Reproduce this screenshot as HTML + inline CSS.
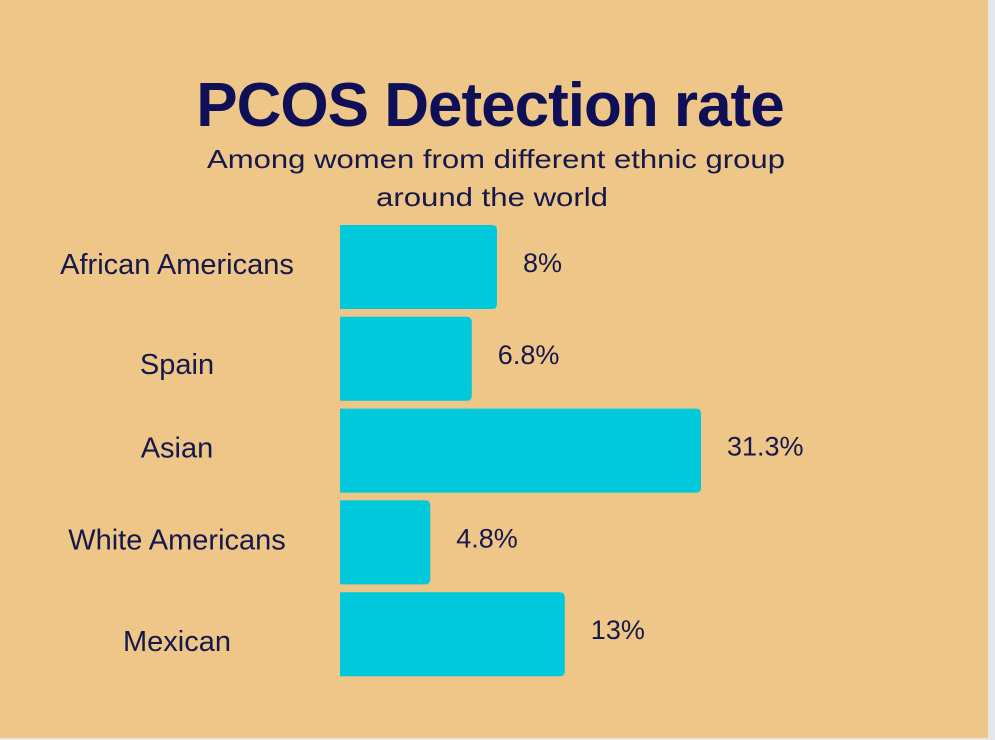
<!DOCTYPE html>
<html><head><meta charset="utf-8"><style>
body{margin:0;width:995px;height:740px;background:#e6e7ec;overflow:hidden;font-family:"Liberation Sans",sans-serif;}
#bg{position:absolute;left:0;top:0;width:988px;height:738px;background:#edc688;}
svg{position:absolute;left:0;top:0;}
</style></head><body>
<div id="bg"></div>
<svg id="chart" width="995" height="740">
<text x="490" y="126" text-anchor="middle" font-size="62" font-weight="bold" fill="#0e0f57" letter-spacing="-1">PCOS Detection rate</text>
<text x="496" y="168" text-anchor="middle" font-size="26" fill="#16174a" textLength="578" lengthAdjust="spacingAndGlyphs">Among women from different ethnic group</text>
<text x="492" y="206" text-anchor="middle" font-size="26" fill="#16174a" textLength="232" lengthAdjust="spacingAndGlyphs">around the world</text>
<g id="bars"></g>
</svg>
<script>
const categories=["African Americans","Spain","Asian","White Americans","Mexican"];
const values=[8,6.8,31.3,4.8,13];
const valueLabels=["8%","6.8%","31.3%","4.8%","13%"];
const axisDomain=[0,5,10,15,35];
const axisRange=[0,94,199,242,388];
const x0=340;
function xLen(v){
  for(let k=1;k<axisDomain.length;k++){
    if(v<=axisDomain[k]||k==axisDomain.length-1){
      const t=(v-axisDomain[k-1])/(axisDomain[k]-axisDomain[k-1]);
      return axisRange[k-1]+t*(axisRange[k]-axisRange[k-1]);
    }
  }
}
function yTop(i){return 225+i*91.8;}
const bh=84;
const g=document.getElementById('bars');
const ns="http://www.w3.org/2000/svg";
categories.forEach((c,i)=>{
  const w=xLen(values[i]),y=yTop(i),r=5;
  const p=document.createElementNS(ns,'path');
  p.setAttribute('d',`M${x0},${y}H${x0+w-r}Q${x0+w},${y} ${x0+w},${y+r}V${y+bh-r}Q${x0+w},${y+bh} ${x0+w-r},${y+bh}H${x0}Z`);
  p.setAttribute('fill','#00c9db');
  
  
  g.appendChild(p);
  const t=document.createElementNS(ns,'text');
  t.setAttribute('x',177);t.setAttribute('y',y+bh/2+7+(i==1?8:i==4?10:0));
  t.setAttribute('text-anchor','middle');t.setAttribute('font-size','29');t.setAttribute('fill','#16174a');
  t.textContent=c;
  
  
  g.appendChild(t);
  const v=document.createElementNS(ns,'text');
  v.setAttribute('x',x0+w+26);v.setAttribute('y',y+bh/2+5);
  v.setAttribute('font-size','27');v.setAttribute('fill','#16174a');
  v.textContent=valueLabels[i];
  
  
  g.appendChild(v);
});
</script>
</body></html>
